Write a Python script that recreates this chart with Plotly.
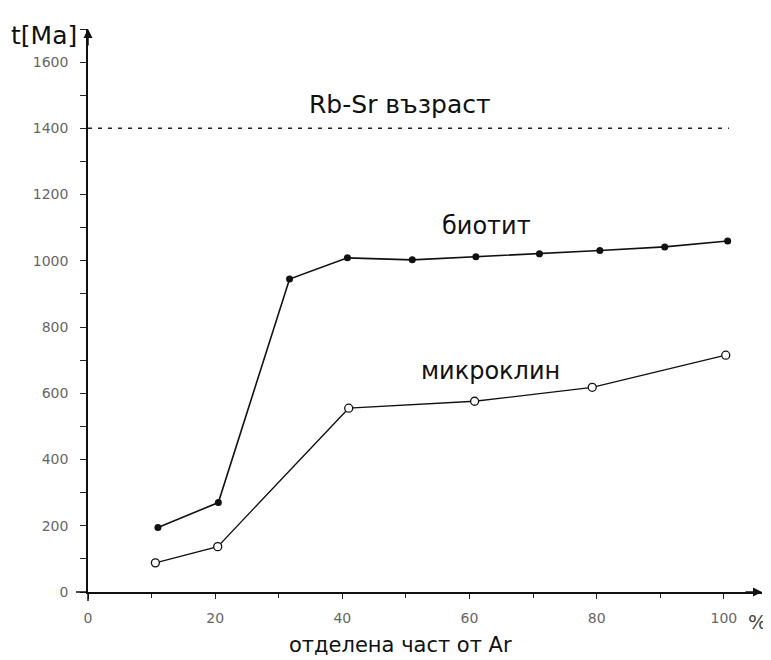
import plotly.graph_objects as go

# Data
biotite_x = [11, 20.5, 31.7, 40.8, 51, 61, 71, 80.5, 90.7, 100.6]
biotite_y = [195, 270, 945, 1009, 1003, 1012, 1021, 1031, 1042, 1060]
micro_x = [10.6, 20.4, 41.0, 60.8, 79.3, 100.3]
micro_y = [88, 137, 555, 576, 618, 715]
rbsr_x = [0, 100.8]
rbsr_y = [1400, 1400]

x_major = [0, 20, 40, 60, 80, 100]
x_labels = ["0", "20", "40", "60", "80", "100"]
y_major = [0, 200, 400, 600, 800, 1000, 1200, 1400, 1600]
y_labels = [str(v) for v in y_major]

fig = go.Figure()
fig.add_trace(go.Scatter(x=rbsr_x, y=rbsr_y, mode="lines",
                         line=dict(color="#222", width=1.5, dash="4px,6px"),
                         hoverinfo="skip", showlegend=False))
fig.add_trace(go.Scatter(x=biotite_x, y=biotite_y, mode="lines+markers",
                         line=dict(color="#111", width=1.6),
                         marker=dict(symbol="circle", size=7, color="#111"),
                         showlegend=False, cliponaxis=False))
fig.add_trace(go.Scatter(x=micro_x, y=micro_y, mode="lines+markers",
                         line=dict(color="#111", width=1.3),
                         marker=dict(symbol="circle", size=8, color="white",
                                     line=dict(color="#111", width=1.3)),
                         showlegend=False, cliponaxis=False))

tickfont = dict(family="DejaVu Sans, sans-serif", size=14, color="#666")
fig.update_xaxes(range=[0, 106], showgrid=False, zeroline=False, automargin=False,
                 showline=True, linecolor="#111", linewidth=1.5,
                 ticks="outside", ticklen=5, tickwidth=1.2, tickcolor="#222",
                 tickvals=x_major, ticktext=x_labels, tickfont=tickfont,
                 ticklabelstandoff=7,
                 minor=dict(dtick=10, tick0=0, ticks="outside", ticklen=4,
                            tickcolor="#222", tickwidth=1))
fig.update_yaxes(range=[0, 1700], showgrid=False, zeroline=False, automargin=False,
                 showline=True, linecolor="#111", linewidth=1.5,
                 ticks="outside", ticklen=6, tickwidth=1.2, tickcolor="#222",
                 tickvals=y_major, ticktext=y_labels, tickfont=tickfont,
                 ticklabelstandoff=9,
                 minor=dict(dtick=100, tick0=0, ticks="outside", ticklen=6,
                            tickcolor="#222", tickwidth=1))

F = "DejaVu Sans, sans-serif"
W, H = 674.0, 563.0
def px(x):
    return (x - 88) / W
def py(y):
    return (592 - y) / H

ann = [
    dict(x=px(44), y=py(36), text="t[Ma]", font=dict(size=25, family=F, color="#111")),
    dict(x=px(400), y=py(104), text="Rb-Sr възраст", font=dict(size=25, family=F, color="#111")),
    dict(x=px(486), y=py(226), text="биотит", font=dict(size=24, family=F, color="#111")),
    dict(x=px(490), y=py(371), text="микроклин", font=dict(size=24, family=F, color="#111")),
    dict(x=px(757), y=py(622), text="%", font=dict(size=20, family=F, color="#444")),
    dict(x=px(400), y=py(645), text="отделена част от Ar", font=dict(size=21, family=F, color="#111")),
]
for a in ann:
    fig.add_annotation(xref="paper", yref="paper", showarrow=False,
                       xanchor="center", yanchor="middle", **a)

# axis arrows
fig.add_annotation(xref="paper", yref="paper", x=0, y=1.0, ax=0, ay=18,
                   axref="pixel", ayref="pixel", showarrow=True, arrowhead=2,
                   arrowsize=1.2, arrowwidth=1.5, arrowcolor="#111", text="")
fig.add_annotation(xref="paper", yref="paper", x=1.0, y=0, ax=-18, ay=0,
                   axref="pixel", ayref="pixel", showarrow=True, arrowhead=2,
                   arrowsize=1.2, arrowwidth=1.5, arrowcolor="#111", text="")

# axis overhangs past the origin
fig.add_shape(type="line", xref="paper", yref="paper", x0=-12/W, x1=0, y0=0, y1=0,
              line=dict(color="#111", width=1.5))
fig.add_shape(type="line", xref="paper", yref="paper", x0=0, x1=0, y0=-9/H, y1=0,
              line=dict(color="#111", width=1.5))

# page body adds an 8px margin, so shift everything by -8
fig.update_layout(width=763, height=652, margin=dict(l=80, r=9, t=21, b=68),
                  paper_bgcolor="white", plot_bgcolor="white")
fig.write_html("out.html")
